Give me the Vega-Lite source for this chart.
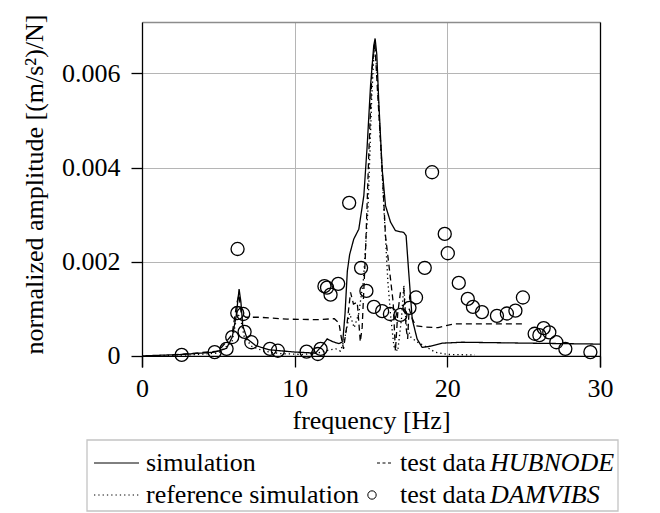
{
  "$schema": "https://vega.github.io/schema/vega-lite/v6.json",
  "padding": {"left": 21, "top": 14, "right": 5, "bottom": 0},
  "spacing": 5,
  "config": {
    "font": "Liberation Serif",
    "view": {"stroke": null},
    "axis": {
      "labelFont": "Liberation Serif",
      "labelFontSize": 26,
      "labelColor": "black",
      "titleFont": "Liberation Serif",
      "titleFontSize": 26,
      "titleFontWeight": "normal",
      "titleColor": "black",
      "gridColor": "#b5b5b5",
      "gridWidth": 1,
      "tickColor": "black",
      "tickWidth": 1.3,
      "domainColor": "black",
      "domainWidth": 1.3
    }
  },
  "datasets": {
    "curves": [
      {"series": "simulation", "frequency": 0, "amplitude": 0},
      {"series": "simulation", "frequency": 2.6, "amplitude": 0.00003},
      {"series": "simulation", "frequency": 4.76, "amplitude": 0.00008},
      {"series": "simulation", "frequency": 5.54, "amplitude": 0.00016},
      {"series": "simulation", "frequency": 5.91, "amplitude": 0.0004},
      {"series": "simulation", "frequency": 6.17, "amplitude": 0.00085},
      {"series": "simulation", "frequency": 6.36, "amplitude": 0.00142},
      {"series": "simulation", "frequency": 6.48, "amplitude": 0.00114},
      {"series": "simulation", "frequency": 6.6, "amplitude": 0.00064},
      {"series": "simulation", "frequency": 6.89, "amplitude": 0.00036},
      {"series": "simulation", "frequency": 7.44, "amplitude": 0.00022},
      {"series": "simulation", "frequency": 8.31, "amplitude": 0.00013},
      {"series": "simulation", "frequency": 10.06, "amplitude": 0.00008},
      {"series": "simulation", "frequency": 11.37, "amplitude": 0.00006},
      {"series": "simulation", "frequency": 11.8, "amplitude": 0.00022},
      {"series": "simulation", "frequency": 12.13, "amplitude": 0.00036},
      {"series": "simulation", "frequency": 12.5, "amplitude": 0.0003},
      {"series": "simulation", "frequency": 12.9, "amplitude": 0.00026},
      {"series": "simulation", "frequency": 13.15, "amplitude": 0.0003},
      {"series": "simulation", "frequency": 13.3, "amplitude": 0.0009},
      {"series": "simulation", "frequency": 13.45, "amplitude": 0.0018},
      {"series": "simulation", "frequency": 13.6, "amplitude": 0.00215},
      {"series": "simulation", "frequency": 13.87, "amplitude": 0.00248},
      {"series": "simulation", "frequency": 14.2, "amplitude": 0.00269},
      {"series": "simulation", "frequency": 14.53, "amplitude": 0.0034},
      {"series": "simulation", "frequency": 14.75, "amplitude": 0.00446},
      {"series": "simulation", "frequency": 14.97, "amplitude": 0.00574},
      {"series": "simulation", "frequency": 15.18, "amplitude": 0.00659},
      {"series": "simulation", "frequency": 15.27, "amplitude": 0.00674},
      {"series": "simulation", "frequency": 15.38, "amplitude": 0.0064},
      {"series": "simulation", "frequency": 15.51, "amplitude": 0.00539},
      {"series": "simulation", "frequency": 15.73, "amplitude": 0.00397},
      {"series": "simulation", "frequency": 15.95, "amplitude": 0.00319},
      {"series": "simulation", "frequency": 16.28, "amplitude": 0.00284},
      {"series": "simulation", "frequency": 16.6, "amplitude": 0.00266},
      {"series": "simulation", "frequency": 17.15, "amplitude": 0.00262},
      {"series": "simulation", "frequency": 17.3, "amplitude": 0.00255},
      {"series": "simulation", "frequency": 17.47, "amplitude": 0.00178},
      {"series": "simulation", "frequency": 17.7, "amplitude": 0.00078},
      {"series": "simulation", "frequency": 18.02, "amplitude": 0.00036},
      {"series": "simulation", "frequency": 18.35, "amplitude": 0.00018},
      {"series": "simulation", "frequency": 18.8, "amplitude": 0.0002},
      {"series": "simulation", "frequency": 19.66, "amplitude": 0.00027},
      {"series": "simulation", "frequency": 20.96, "amplitude": 0.00029},
      {"series": "simulation", "frequency": 25.33, "amplitude": 0.00027},
      {"series": "simulation", "frequency": 30, "amplitude": 0.00025},

      {"series": "test data HUBNODE", "frequency": 2.0, "amplitude": 0.00002},
      {"series": "test data HUBNODE", "frequency": 5.0, "amplitude": 0.0001},
      {"series": "test data HUBNODE", "frequency": 5.9, "amplitude": 0.00045},
      {"series": "test data HUBNODE", "frequency": 6.2, "amplitude": 0.0011},
      {"series": "test data HUBNODE", "frequency": 6.35, "amplitude": 0.0013},
      {"series": "test data HUBNODE", "frequency": 6.5, "amplitude": 0.0009},
      {"series": "test data HUBNODE", "frequency": 6.8, "amplitude": 0.00082},
      {"series": "test data HUBNODE", "frequency": 7.7, "amplitude": 0.00082},
      {"series": "test data HUBNODE", "frequency": 9.5, "amplitude": 0.00078},
      {"series": "test data HUBNODE", "frequency": 11.5, "amplitude": 0.00077},
      {"series": "test data HUBNODE", "frequency": 12.6, "amplitude": 0.00079},
      {"series": "test data HUBNODE", "frequency": 12.9, "amplitude": 0.0007},
      {"series": "test data HUBNODE", "frequency": 13.05, "amplitude": 0.0004},
      {"series": "test data HUBNODE", "frequency": 13.2, "amplitude": 0.00015},
      {"series": "test data HUBNODE", "frequency": 13.4, "amplitude": 0.0006},
      {"series": "test data HUBNODE", "frequency": 13.66, "amplitude": 0.00135},
      {"series": "test data HUBNODE", "frequency": 13.85, "amplitude": 0.0011},
      {"series": "test data HUBNODE", "frequency": 14.1, "amplitude": 0.00114},
      {"series": "test data HUBNODE", "frequency": 14.3, "amplitude": 0.0003},
      {"series": "test data HUBNODE", "frequency": 14.42, "amplitude": 0.0006},
      {"series": "test data HUBNODE", "frequency": 14.64, "amplitude": 0.0022},
      {"series": "test data HUBNODE", "frequency": 14.86, "amplitude": 0.00433},
      {"series": "test data HUBNODE", "frequency": 15.07, "amplitude": 0.00609},
      {"series": "test data HUBNODE", "frequency": 15.25, "amplitude": 0.00666},
      {"series": "test data HUBNODE", "frequency": 15.42, "amplitude": 0.00566},
      {"series": "test data HUBNODE", "frequency": 15.73, "amplitude": 0.00397},
      {"series": "test data HUBNODE", "frequency": 15.95, "amplitude": 0.00255},
      {"series": "test data HUBNODE", "frequency": 16.28, "amplitude": 0.00163},
      {"series": "test data HUBNODE", "frequency": 16.45, "amplitude": 0.00114},
      {"series": "test data HUBNODE", "frequency": 16.6, "amplitude": 0.0001},
      {"series": "test data HUBNODE", "frequency": 16.75, "amplitude": 0.0009},
      {"series": "test data HUBNODE", "frequency": 16.93, "amplitude": 0.00135},
      {"series": "test data HUBNODE", "frequency": 17.15, "amplitude": 0.00142},
      {"series": "test data HUBNODE", "frequency": 17.3, "amplitude": 0.0006},
      {"series": "test data HUBNODE", "frequency": 17.4, "amplitude": 0.00036},
      {"series": "test data HUBNODE", "frequency": 17.5, "amplitude": 0.001},
      {"series": "test data HUBNODE", "frequency": 17.7, "amplitude": 0.0008},
      {"series": "test data HUBNODE", "frequency": 17.91, "amplitude": 0.00064},
      {"series": "test data HUBNODE", "frequency": 18.57, "amplitude": 0.00061},
      {"series": "test data HUBNODE", "frequency": 19.4, "amplitude": 0.0006},
      {"series": "test data HUBNODE", "frequency": 19.87, "amplitude": 0.00064},
      {"series": "test data HUBNODE", "frequency": 20.5, "amplitude": 0.00068},
      {"series": "test data HUBNODE", "frequency": 25.0, "amplitude": 0.00068},

      {"series": "reference simulation", "frequency": 0, "amplitude": 0},
      {"series": "reference simulation", "frequency": 3, "amplitude": 0.00002},
      {"series": "reference simulation", "frequency": 5, "amplitude": 0.00006},
      {"series": "reference simulation", "frequency": 5.9, "amplitude": 0.0003},
      {"series": "reference simulation", "frequency": 6.25, "amplitude": 0.0009},
      {"series": "reference simulation", "frequency": 6.45, "amplitude": 0.0008},
      {"series": "reference simulation", "frequency": 6.7, "amplitude": 0.0004},
      {"series": "reference simulation", "frequency": 7.2, "amplitude": 0.0002},
      {"series": "reference simulation", "frequency": 8.0, "amplitude": 0.0001},
      {"series": "reference simulation", "frequency": 9.0, "amplitude": 0.00005},
      {"series": "reference simulation", "frequency": 10.5, "amplitude": 0.00003},
      {"series": "reference simulation", "frequency": 11.5, "amplitude": 0.00006},
      {"series": "reference simulation", "frequency": 12.2, "amplitude": 0.00012},
      {"series": "reference simulation", "frequency": 12.7, "amplitude": 0.00015},
      {"series": "reference simulation", "frequency": 13.0, "amplitude": 0.0001},
      {"series": "reference simulation", "frequency": 13.3, "amplitude": 0.0004},
      {"series": "reference simulation", "frequency": 13.6, "amplitude": 0.0009},
      {"series": "reference simulation", "frequency": 13.9, "amplitude": 0.0006},
      {"series": "reference simulation", "frequency": 14.2, "amplitude": 0.0009},
      {"series": "reference simulation", "frequency": 14.5, "amplitude": 0.0016},
      {"series": "reference simulation", "frequency": 14.8, "amplitude": 0.0031},
      {"series": "reference simulation", "frequency": 15.05, "amplitude": 0.0055},
      {"series": "reference simulation", "frequency": 15.22, "amplitude": 0.0066},
      {"series": "reference simulation", "frequency": 15.4, "amplitude": 0.006},
      {"series": "reference simulation", "frequency": 15.6, "amplitude": 0.0047},
      {"series": "reference simulation", "frequency": 15.85, "amplitude": 0.0031},
      {"series": "reference simulation", "frequency": 16.1, "amplitude": 0.0016},
      {"series": "reference simulation", "frequency": 16.3, "amplitude": 0.0008},
      {"series": "reference simulation", "frequency": 16.5, "amplitude": 0.0002},
      {"series": "reference simulation", "frequency": 16.75, "amplitude": 0.0001},
      {"series": "reference simulation", "frequency": 17.0, "amplitude": 0.0008},
      {"series": "reference simulation", "frequency": 17.15, "amplitude": 0.0015},
      {"series": "reference simulation", "frequency": 17.3, "amplitude": 0.0007},
      {"series": "reference simulation", "frequency": 17.6, "amplitude": 0.0004},
      {"series": "reference simulation", "frequency": 18.0, "amplitude": 0.0003},
      {"series": "reference simulation", "frequency": 18.46, "amplitude": 0.00022},
      {"series": "reference simulation", "frequency": 19.2, "amplitude": 0.00008},
      {"series": "reference simulation", "frequency": 20.0, "amplitude": 0.00003},
      {"series": "reference simulation", "frequency": 21.8, "amplitude": 0.00002}
    ],
    "damvibs": [
      {"frequency": 2.6, "amplitude": 0.00002},
      {"frequency": 4.76, "amplitude": 0.00008},
      {"frequency": 5.54, "amplitude": 0.00015},
      {"frequency": 5.91, "amplitude": 0.0004},
      {"frequency": 6.26, "amplitude": 0.00227},
      {"frequency": 6.24, "amplitude": 0.00091},
      {"frequency": 6.63, "amplitude": 0.00089},
      {"frequency": 6.72, "amplitude": 0.00051},
      {"frequency": 7.16, "amplitude": 0.00029},
      {"frequency": 8.38, "amplitude": 0.00015},
      {"frequency": 8.9, "amplitude": 0.00011},
      {"frequency": 10.78, "amplitude": 0.00009},
      {"frequency": 11.52, "amplitude": 0.00004},
      {"frequency": 11.7, "amplitude": 0.00015},
      {"frequency": 11.95, "amplitude": 0.00148},
      {"frequency": 12.12, "amplitude": 0.00145},
      {"frequency": 12.35, "amplitude": 0.0013},
      {"frequency": 12.85, "amplitude": 0.00153},
      {"frequency": 13.57, "amplitude": 0.00325},
      {"frequency": 14.35, "amplitude": 0.00187},
      {"frequency": 14.7, "amplitude": 0.00138},
      {"frequency": 15.19, "amplitude": 0.00104},
      {"frequency": 15.73, "amplitude": 0.00095},
      {"frequency": 16.24, "amplitude": 0.00089},
      {"frequency": 16.93, "amplitude": 0.00087},
      {"frequency": 17.52, "amplitude": 0.00102},
      {"frequency": 17.95, "amplitude": 0.00124},
      {"frequency": 18.52, "amplitude": 0.00187},
      {"frequency": 19.0, "amplitude": 0.0039},
      {"frequency": 19.83, "amplitude": 0.00259},
      {"frequency": 20.03, "amplitude": 0.00218},
      {"frequency": 20.75, "amplitude": 0.00155},
      {"frequency": 21.34, "amplitude": 0.00121},
      {"frequency": 21.68, "amplitude": 0.00104},
      {"frequency": 22.27, "amplitude": 0.00093},
      {"frequency": 23.25, "amplitude": 0.00085},
      {"frequency": 23.9, "amplitude": 0.0009},
      {"frequency": 24.46, "amplitude": 0.00096},
      {"frequency": 24.95, "amplitude": 0.00124},
      {"frequency": 25.72, "amplitude": 0.00047},
      {"frequency": 26.03, "amplitude": 0.00044},
      {"frequency": 26.31, "amplitude": 0.00059},
      {"frequency": 26.68, "amplitude": 0.0005},
      {"frequency": 27.14, "amplitude": 0.00029},
      {"frequency": 27.73, "amplitude": 0.00015},
      {"frequency": 29.37, "amplitude": 0.00008}
    ],
    "legend": [
      {"series": "simulation", "label": "simulation", "emph": "", "column": "left", "row": "top"},
      {"series": "reference simulation", "label": "reference simulation", "emph": "", "column": "left", "row": "bottom"},
      {"series": "test data HUBNODE", "label": "test data", "emph": "HUBNODE", "column": "right", "row": "top"},
      {"series": "test data DAMVIBS", "label": "test data", "emph": "DAMVIBS", "column": "right", "row": "bottom"}
    ]
  },
  "vconcat": [
    {
      "width": 458,
      "height": 345,
      "resolve": {"axis": {"x": "independent", "y": "independent"}},
      "layer": [
        {
          "data": {"name": "curves"},
          "mark": {"type": "line", "stroke": "black", "strokeWidth": 1.3},
          "encoding": {
            "x": {
              "field": "frequency",
              "type": "quantitative",
              "scale": {"domain": [0, 30], "nice": false},
              "axis": {
                "orient": "bottom",
                "offset": -11.1,
                "values": [0, 10, 20, 30],
                "format": "d",
                "tickSize": 11,
                "labelPadding": 9,
                "labelFlush": false,
                "labelOverlap": false,
                "grid": true,
                "title": "frequency [Hz]",
                "titlePadding": 6
              }
            },
            "y": {
              "field": "amplitude",
              "type": "quantitative",
              "scale": {"domain": [-0.000236, 0.00709], "nice": false, "zero": false},
              "axis": {
                "orient": "left",
                "values": [0, 0.002, 0.004, 0.006],
                "format": ".3~f",
                "tickSize": 11,
                "labelPadding": 11,
                "labelOverlap": false,
                "grid": true,
                "title": "normalized amplitude [(m/s²)/N]",
                "titlePadding": 14,
                "titleY": 162
              }
            },
            "strokeDash": {
              "field": "series",
              "type": "nominal",
              "scale": {
                "domain": ["simulation", "reference simulation", "test data HUBNODE"],
                "range": [[1, 0], [1.3, 3], [6, 4]]
              },
              "legend": null
            },
            "order": {"field": "frequency", "type": "quantitative"}
          }
        },
        {
          "data": {"name": "damvibs"},
          "mark": {"type": "point", "shape": "circle", "size": 170, "filled": false, "stroke": "black", "strokeWidth": 1.3, "opacity": 1},
          "encoding": {
            "x": {
              "field": "frequency",
              "type": "quantitative",
              "axis": {"orient": "top", "domainColor": "#8c8c8c", "ticks": false, "labels": false, "grid": false, "title": null}
            },
            "y": {
              "field": "amplitude",
              "type": "quantitative",
              "axis": {"orient": "right", "domainColor": "black", "ticks": false, "labels": false, "grid": false, "title": null}
            }
          }
        }
      ]
    },
    {
      "width": 458,
      "height": 71,
      "data": {"name": "legend"},
      "encoding": {
        "x": {
          "field": "column",
          "type": "nominal",
          "scale": {"type": "point", "domain": ["left", "right"], "range": [4, 258], "padding": 0},
          "axis": null
        },
        "y": {
          "field": "row",
          "type": "nominal",
          "scale": {"type": "point", "domain": ["top", "bottom"], "range": [31, 63], "padding": 0},
          "axis": null
        }
      },
      "layer": [
        {
          "transform": [{"filter": {"field": "series", "equal": "simulation"}}],
          "mark": {"type": "rect", "fill": "transparent", "stroke": "#c4c4c4", "strokeWidth": 1.3, "xOffset": -59, "x2Offset": 218, "yOffset": -31, "y2Offset": 8},
          "encoding": {
            "x": {"datum": "left", "type": "nominal"},
            "x2": {"datum": "right"},
            "y": {"datum": "top", "type": "nominal"},
            "y2": {"datum": "bottom"}
          }
        },
        {
          "transform": [{"filter": {"field": "column", "equal": "left"}}],
          "mark": {"type": "rule", "stroke": "black", "strokeWidth": 1, "xOffset": -52, "x2Offset": -7, "yOffset": -8},
          "encoding": {
            "x2": {"field": "column"},
            "strokeDash": {
              "field": "series",
              "type": "nominal",
              "scale": {"domain": ["simulation", "reference simulation"], "range": [[1, 0], [1, 3]]},
              "legend": null
            }
          }
        },
        {
          "transform": [{"filter": {"field": "series", "equal": "test data HUBNODE"}}],
          "mark": {"type": "rule", "stroke": "black", "strokeWidth": 1, "strokeDash": [3, 2.5], "xOffset": -23, "x2Offset": -7, "yOffset": -8},
          "encoding": {"x2": {"field": "column"}}
        },
        {
          "transform": [{"filter": {"field": "series", "equal": "test data DAMVIBS"}}],
          "mark": {"type": "point", "shape": "circle", "size": 70, "filled": false, "stroke": "black", "strokeWidth": 1, "opacity": 1, "xOffset": -28, "yOffset": -8}
        },
        {
          "mark": {"type": "text", "font": "Liberation Serif", "fontSize": 26, "align": "left", "baseline": "alphabetic", "color": "black"},
          "encoding": {"text": {"field": "label"}}
        },
        {
          "transform": [{"filter": {"field": "column", "equal": "right"}}],
          "mark": {"type": "text", "font": "Liberation Serif", "fontSize": 26, "fontStyle": "italic", "align": "left", "baseline": "alphabetic", "color": "black", "dx": 90},
          "encoding": {"text": {"field": "emph"}}
        }
      ]
    }
  ]
}
